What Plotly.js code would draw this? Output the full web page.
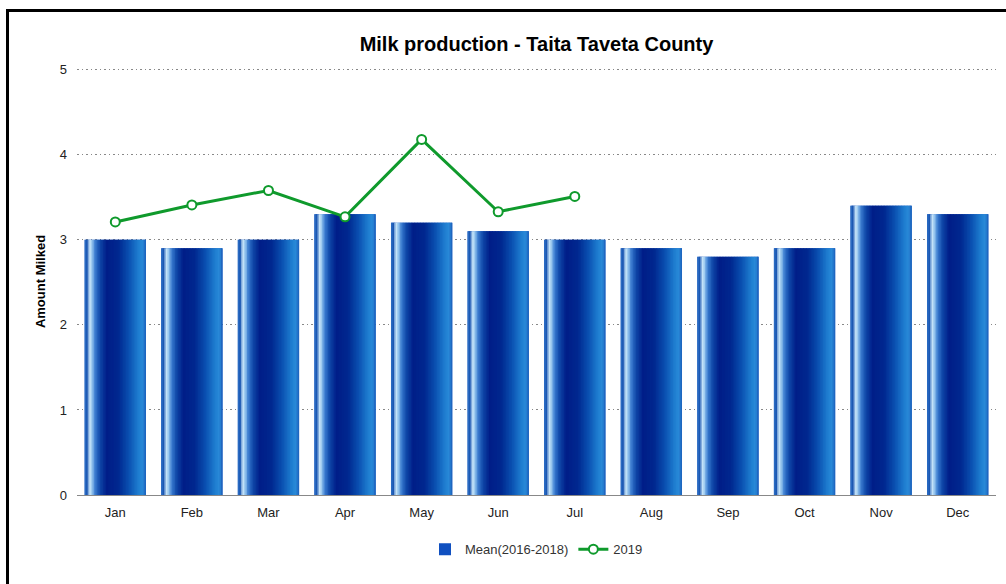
<!DOCTYPE html>
<html>
<head>
<meta charset="utf-8">
<script src="https://cdn.plot.ly/plotly-3.0.1.min.js"></script>
<style>
  html, body { margin: 0; padding: 0; background: #fff; }
  #frame { position: absolute; left: 6px; top: 9px; width: 1010px; height: 590px;
           border-left: 3px solid #000; border-top: 3px solid #000; pointer-events: none; z-index: 5; }
  #chart { position: absolute; left: 0; top: 0; width: 1006px; height: 584px; }
</style>
</head>
<body>
<div id="chart"></div>
<div id="frame"></div>
<script>
const months = ["Jan","Feb","Mar","Apr","May","Jun","Jul","Aug","Sep","Oct","Nov","Dec"];
const meanValues = [3.0, 2.9, 3.0, 3.3, 3.2, 3.1, 3.0, 2.9, 2.8, 2.9, 3.4, 3.3];
const months2019 = ["Jan","Feb","Mar","Apr","May","Jun","Jul"];
const values2019 = [3.21, 3.41, 3.58, 3.27, 4.18, 3.33, 3.51];

// bar gradient style (left -> right)
const stops = [
  [0.00, [47,116,200]],
  [0.04, [27,85,176]],
  [0.08, [205,232,250]],
  [0.12, [150,198,238]],
  [0.17, [58,124,208]],
  [0.25, [15,71,168]],
  [0.36, [0,30,136]],
  [0.55, [0,40,144]],
  [0.72, [10,80,176]],
  [0.88, [31,126,208]],
  [0.95, [42,138,216]],
  [1.00, [26,92,184]]
];
function colorAt(t) {
  for (let i = 0; i < stops.length - 1; i++) {
    const [p0, c0] = stops[i], [p1, c1] = stops[i + 1];
    if (t >= p0 && t <= p1) {
      const f = (t - p0) / (p1 - p0);
      const c = c0.map((v, k) => Math.round(v + (c1[k] - v) * f));
      return `rgb(${c[0]},${c[1]},${c[2]})`;
    }
  }
  return 'rgb(26,92,184)';
}

const barW = 0.8;
const N = 40;
const traces = [];
traces.push({
  type: 'bar', x: months, y: meanValues, name: 'Mean(2016-2018)',
  width: barW, marker: { color: '#1050c0', line: { width: 0 } },
  hoverinfo: 'x+y'
});
for (let i = 0; i < N; i++) {
  const sw = barW / N;
  traces.push({
    type: 'bar', x: months, y: meanValues, showlegend: false, hoverinfo: 'skip',
    width: (i === N - 1) ? sw : sw * 1.6, offset: -barW / 2 + i * sw,
    marker: { color: colorAt((i + 0.5) / N), line: { width: 0 } }
  });
}

traces.push({
  type: 'scatter', mode: 'lines+markers', x: months2019, y: values2019, name: '2019',
  line: { color: '#0f9a2c', width: 3 },
  marker: { symbol: 'circle', size: 9, color: '#ffffff', line: { color: '#0f9a2c', width: 2 } }
});

const layout = {
  width: 1006, height: 584,
  paper_bgcolor: '#ffffff', plot_bgcolor: '#ffffff',
  margin: { l: 77, r: 10, t: 68, b: 89 },
  barmode: 'overlay', bargap: 0.2,
  font: { family: 'Liberation Sans, Arial, sans-serif', size: 13, color: '#222' },
  title: {
    text: '<b>Milk production - Taita Taveta County</b>',
    font: { family: 'Liberation Sans, Arial, sans-serif', size: 20, color: '#000' },
    x: 0.5, xref: 'paper', xanchor: 'center', y: 1 - 44 / 584, yanchor: 'middle'
  },
  xaxis: {
    type: 'category', range: [-0.5, 11.5], autorange: false,
    showgrid: false, zeroline: false,
    showline: true, linecolor: '#888', linewidth: 1,
    ticks: '', ticklabelstandoff: 5,
    tickfont: { size: 13, color: '#222' }, fixedrange: true
  },
  yaxis: {
    range: [0, 5.02], autorange: false, tickvals: [0, 1, 2, 3, 4, 5],
    showgrid: true, gridcolor: '#888', griddash: '1.5px,3px', gridwidth: 1,
    zeroline: false, showline: false, ticks: '', ticklabelstandoff: 9,
    tickfont: { size: 13, color: '#222' },
    title: { text: '<b>Amount Milked</b>', font: { size: 13, color: '#000' }, standoff: 11 },
    fixedrange: true
  },
  legend: {
    orientation: 'h', x: 0.5, xanchor: 'center', y: -0.127, yanchor: 'middle',
    font: { size: 13, color: '#333' }, traceorder: 'normal'
  },
  showlegend: true
};

Plotly.newPlot('chart', traces, layout, { displayModeBar: false, staticPlot: true });
</script>
</body>
</html>
